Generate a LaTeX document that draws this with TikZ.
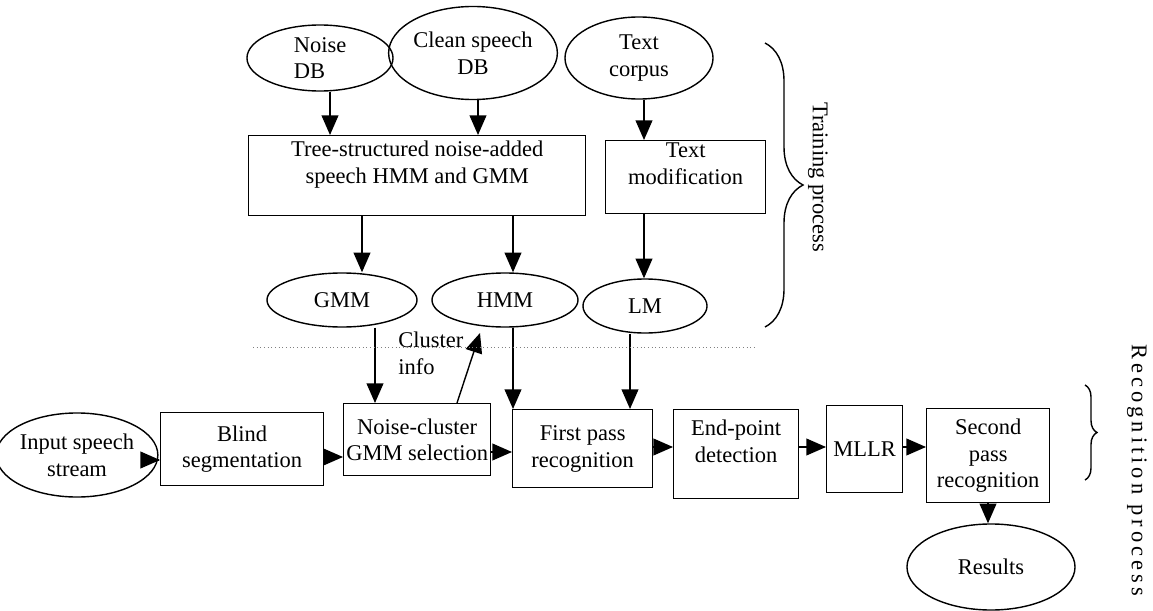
\documentclass[tikz,border=0pt]{standalone}
\usepackage{fontspec}
\setmainfont{Liberation Serif}
\usetikzlibrary{shapes.geometric,arrows.meta,decorations.pathreplacing}

\tikzset{
  blk/.style={draw, rectangle, anchor=north west, align=center, inner sep=1pt},
  db/.style={draw, ellipse, align=center, inner sep=0pt},
  arr/.style={-{Triangle[length=14pt,width=12pt]}},
  brc/.style={decorate, decoration={brace, amplitude=#1}},
}

\begin{document}
\begin{tikzpicture}[x=0.025cm, y=-0.025cm, line width=1pt, font=\fontsize{16}{19}\selectfont]
 \useasboundingbox (0,0) rectangle (1153,611);
 % training part
 \node[db, minimum width=3.65cm, minimum height=1.65cm, align=left] (noise) at (320,58) {Noise\\DB};
 \node[db, minimum width=3.65cm, minimum height=2.325cm] (clean) at (473,53) {Clean speech\\DB};
 \node[db, minimum width=3.7cm, minimum height=2.05cm] (corpus) at (639,58) {Text\\corpus};
 \node[blk, minimum width=8.425cm, minimum height=2cm] (tree) at (248,135) {Tree-structured noise-added\\speech HMM and GMM\\ \mbox{}};
 \node[blk, minimum width=4cm, minimum height=1.825cm] (textmod) at (605,140) {Text\\modification\\ \mbox{}};
 \node[db, minimum width=3.75cm, minimum height=1.35cm] (gmm) at (342,300) {GMM};
 \node[db, minimum width=3.65cm, minimum height=1.35cm] (hmm) at (505,300) {HMM};
 \node[db, minimum width=3.1cm, minimum height=1.35cm] (lm) at (645,306) {LM};
 % recognition part
 \node[db, minimum width=3.6cm, minimum height=2.1cm] (input) at (77,455) {Input speech\\stream};
 \node[blk, minimum width=4.075cm, minimum height=1.825cm] (blind) at (160,412) {Blind\\segmentation};
 \node[blk, minimum width=3.675cm, minimum height=1.8cm] (noisecl) at (343,403) {Noise-cluster\\GMM selection};
 \node[blk, minimum width=3.5cm, minimum height=1.95cm] (first) at (512,409) {First pass\\recognition};
 \node[blk, minimum width=3.125cm, minimum height=2.225cm] (endpt) at (673,409) {End-point\\detection\\ \mbox{}};
 \node[blk, minimum width=1.9cm, minimum height=2.175cm] (mllr) at (826,405) {MLLR};
 \node[blk, minimum width=3.075cm, minimum height=2.35cm] (second) at (926,408) {Second\\pass\\recognition};
 \node[db, minimum width=4.2cm, minimum height=2.15cm] (results) at (991,567) {Results};
 \node[anchor=west, align=left] (clinfo) at (393,353) {Cluster\\info};
 \node[rotate=-90] (trlabel) at (818,177) {Training process};
 \node[rotate=-90, font=\fontsize{16}{19}\selectfont\addfontfeature{LetterSpace=18}] (reclabel) at (1137,470) {Recognition process};

 \coordinate (cn) at (330,0);  \coordinate (cc) at (478,0);  \coordinate (ct) at (644,0);
 \coordinate (cg) at (362,0);  \coordinate (ch) at (513,0);  \coordinate (cs) at (375,0);
 \coordinate (cl) at (630,0);  \coordinate (cu) at (457,0);  \coordinate (cr) at (988,0);
 \coordinate (ci) at (480,333);
 \coordinate (r1) at (0,460);  \coordinate (r2) at (0,457);  \coordinate (r3) at (0,452);
 \coordinate (r4) at (0,447);
 \coordinate (dl1) at (253,347);  \coordinate (dl2) at (755,347);
 \coordinate (tb1) at (765,43);  \coordinate (tb2) at (765,327);
 \coordinate (rb1) at (1085,385);  \coordinate (rb2) at (1085,480);

 \path[arr]
  (noise.south -| cn) edge (tree.north -| cn)
  (clean.south -| cc) edge (tree.north -| cc)
  (corpus.south -| ct) edge (textmod.north -| ct)
  (tree.south -| cg) edge (gmm.north -| cg)
  (tree.south -| ch) edge (hmm.north -| ch)
  (textmod.south -| ct) edge (lm.north -| ct)
  (gmm.south -| cs) edge (noisecl.north -| cs)
  (noisecl.north -| cu) edge (ci)
  (hmm.south -| ch) edge (first.north -| ch)
  (lm.south -| cl) edge (first.north -| cl)
  (input.east |- r1) edge (blind.west |- r1)
  (blind.east |- r2) edge (noisecl.west |- r2)
  (noisecl.east |- r3) edge (first.west |- r3)
  (first.east |- r4) edge (endpt.west |- r4)
  (endpt.east |- r4) edge (mllr.west |- r4)
  (mllr.east |- r4) edge (second.west |- r4)
  (second.south -| cr) edge (results.north -| cr)
  ;
 \draw[dotted, gray, line width=0.6pt] (dl1) -- (dl2);
 \draw[brc=0.95cm] (tb1) -- (tb2);
 \draw[brc=0.3cm] (rb1) -- (rb2);
\end{tikzpicture}
\end{document}
